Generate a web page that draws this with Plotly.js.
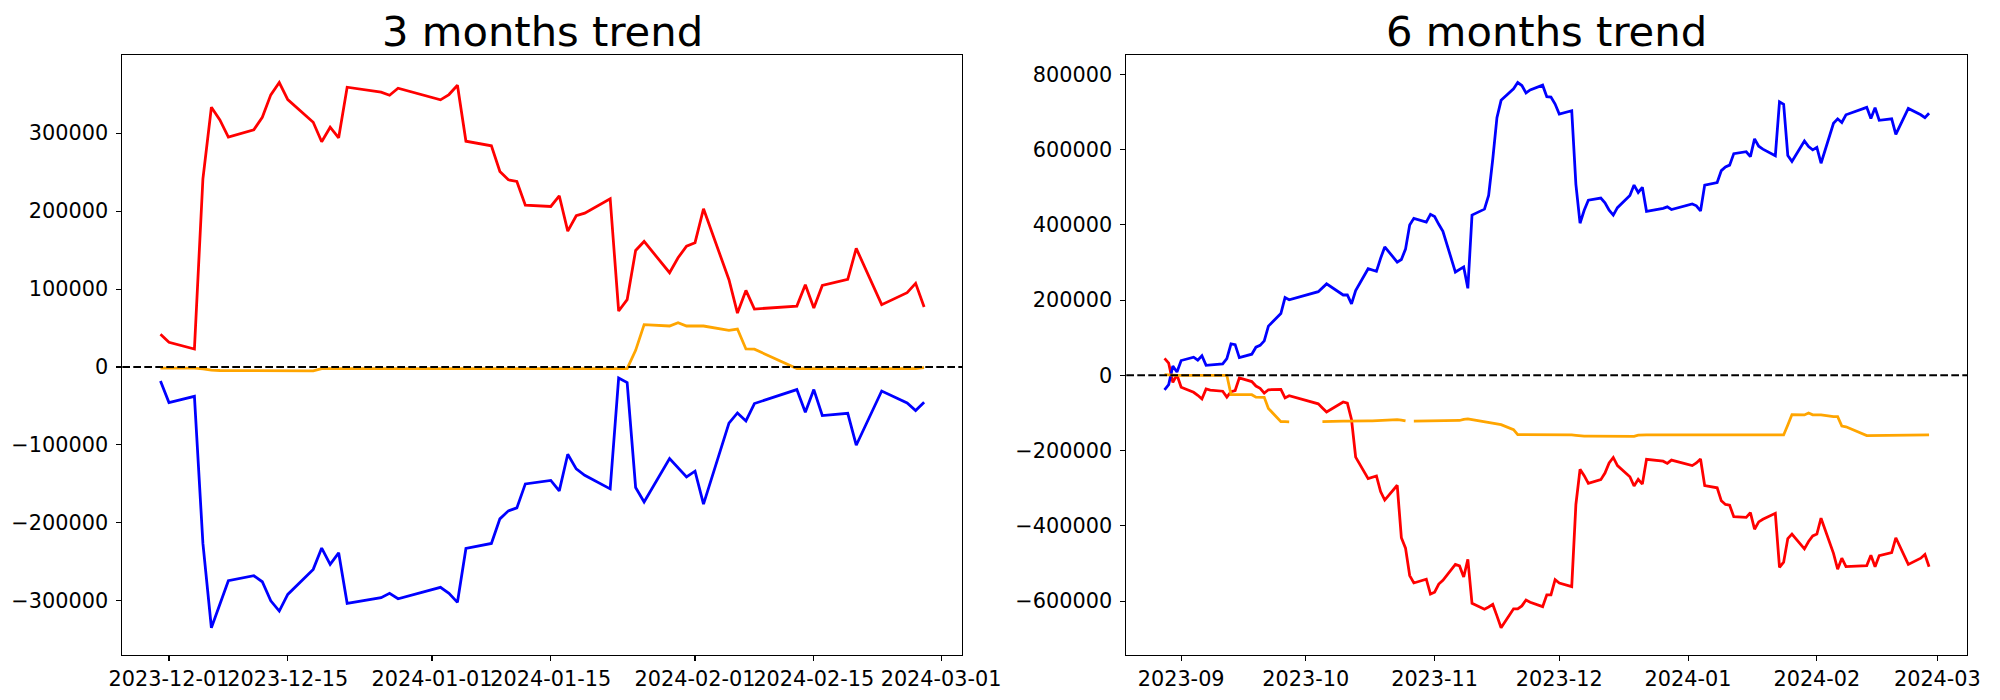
<!DOCTYPE html>
<html>
<head>
<meta charset="utf-8">
<script src="https://cdn.plot.ly/plotly-3.0.1.min.js"></script>
<style>
  html, body { margin: 0; padding: 0; background: #ffffff; }
  #chart { width: 2000px; height: 700px; }
</style>
</head>
<body>
<div id="chart"></div>
<script>
// ---------- 3 months trend ----------
const dates3m = [
  "2023-11-30","2023-12-01","2023-12-04","2023-12-05","2023-12-06","2023-12-07","2023-12-08",
  "2023-12-11","2023-12-12","2023-12-13","2023-12-14","2023-12-15","2023-12-18","2023-12-19",
  "2023-12-20","2023-12-21","2023-12-22","2023-12-26","2023-12-27","2023-12-28","2024-01-02",
  "2024-01-03","2024-01-04","2024-01-05","2024-01-08","2024-01-09","2024-01-10","2024-01-11",
  "2024-01-12","2024-01-15","2024-01-16","2024-01-17","2024-01-18","2024-01-19","2024-01-22",
  "2024-01-23","2024-01-24","2024-01-25","2024-01-26","2024-01-29","2024-01-30","2024-01-31",
  "2024-02-01","2024-02-02","2024-02-05","2024-02-06","2024-02-07","2024-02-08","2024-02-13",
  "2024-02-14","2024-02-15","2024-02-16","2024-02-19","2024-02-20","2024-02-23","2024-02-26",
  "2024-02-27","2024-02-28"
];
const red3m = [
  41900, 31700, 23100, 241500, 333300, 317100, 294900,
  304300, 320500, 349200, 365000, 343200, 314100, 289000,
  307700, 294100, 359000, 352600, 348700, 357700, 342800,
  349600, 361500, 289700, 283800, 250900, 240200, 238100,
  207700, 206000, 219700, 174400, 194100, 197400, 215900,
  71800, 86400, 149600, 161100, 121000, 140200, 155100,
  159500, 203000, 112000, 69200, 98300, 74400, 78200,
  105600, 75600, 104700, 112400, 152200, 80000, 95400,
  107300, 76900
];
const blue3m = [
  -17900, -45700, -37600, -226400, -334600, -305500, -274300,
  -267900, -275600, -300000, -313200, -291800, -259700, -232400,
  -253300, -238500, -303300, -296100, -290500, -297400, -282800,
  -290500, -302000, -232800, -226400, -194900, -184600, -180800,
  -150000, -145600, -159000, -111900, -130800, -139000, -156400,
  -14100, -20000, -154600, -173100, -117400, -129500, -141000,
  -133700, -176000, -72000, -59000, -69200, -46900, -29000,
  -58100, -29000, -62300, -59400, -100400, -30800, -46200,
  -55900, -45300
];
const orange3m = [
  -1500, -1500, -1500, -2500, -4000, -4500, -4500,
  -5000, -5000, -5000, -5000, -5000, -5000, -2000,
  -2000, -1500, -1500, -1500, -1500, -1500, -1500,
  -1500, -1500, -1500, -1500, -1500, -1500, -1500,
  -1500, -1500, -1500, -1500, -1500, -1500, -1500,
  -1500, -2000, 21400, 54400, 52600, 56900, 52600,
  52600, 52600, 47000, 48700, 23100, 22800, -2000,
  -2000, -2000, -2000, -2000, -2000, -2000, -2000,
  -2000, -700
];

// ---------- 6 months trend ----------
const dates6m = [
  "2023-08-28","2023-08-29","2023-08-30","2023-08-31","2023-09-01",
  "2023-09-04","2023-09-05","2023-09-06","2023-09-07","2023-09-08",
  "2023-09-11","2023-09-12","2023-09-13","2023-09-14","2023-09-15",
  "2023-09-18","2023-09-19","2023-09-20","2023-09-21","2023-09-22",
  "2023-09-25","2023-09-26","2023-09-27","2023-10-04","2023-10-05",
  "2023-10-06","2023-10-10","2023-10-11","2023-10-12","2023-10-13",
  "2023-10-16","2023-10-17","2023-10-18","2023-10-19","2023-10-20",
  "2023-10-23","2023-10-24","2023-10-25","2023-10-26","2023-10-27",
  "2023-10-30","2023-10-31","2023-11-01","2023-11-02","2023-11-03",
  "2023-11-06","2023-11-07","2023-11-08","2023-11-09","2023-11-10",
  "2023-11-13","2023-11-14","2023-11-15","2023-11-16","2023-11-17",
  "2023-11-20","2023-11-21","2023-11-22","2023-11-23","2023-11-24",
  "2023-11-27","2023-11-28","2023-11-29","2023-11-30","2023-12-01",
  "2023-12-04","2023-12-05","2023-12-06","2023-12-07","2023-12-08",
  "2023-12-11","2023-12-12","2023-12-13","2023-12-14","2023-12-15",
  "2023-12-18","2023-12-19","2023-12-20","2023-12-21","2023-12-22",
  "2023-12-26","2023-12-27","2023-12-28","2024-01-02","2024-01-03",
  "2024-01-04","2024-01-05","2024-01-08","2024-01-09","2024-01-10",
  "2024-01-11","2024-01-12","2024-01-15","2024-01-16","2024-01-17",
  "2024-01-18","2024-01-19","2024-01-22","2024-01-23","2024-01-24",
  "2024-01-25","2024-01-26","2024-01-29","2024-01-30","2024-01-31",
  "2024-02-01","2024-02-02","2024-02-05","2024-02-06","2024-02-07",
  "2024-02-08","2024-02-13","2024-02-14","2024-02-15","2024-02-16",
  "2024-02-19","2024-02-20","2024-02-23","2024-02-26","2024-02-27",
  "2024-02-28"
];
const blue6m = [
  -38400, -24600, 24600, 8900, 39300,
  48200, 40300, 52100, 26600, 27500,
  30500, 44300, 83600, 81600, 47200,
  56100, 74800, 79700, 91500, 130800,
  164300, 206600, 200700, 222300, 232200,
  243000, 213500, 213500, 189900, 225300,
  283300, 280400, 276400, 310900, 341300,
  301000, 307900, 335400, 399400, 417100,
  407300, 427900, 422000, 401400, 382700,
  274500, 282300, 288200, 231200, 425900,
  441700, 478100, 575000, 684700, 730900,
  761400, 778100, 770200, 750600, 758400,
  771200, 740700, 739700, 721000, 694500,
  703300, 507600, 404300, 438700, 465300,
  471200, 458400, 438700, 425900, 445600,
  478100, 505600, 486000, 499700, 435800,
  443600, 447600, 440700, 455400, 450500,
  436800, 505600, 512500, 544000, 553800,
  558700, 589200, 594200, 581400, 628600,
  608900, 601000, 583300, 727000, 720500,
  584300, 568600, 622700, 607900, 599100,
  606000, 563700, 669900, 681700, 671900,
  692500, 712200, 682700, 711200, 677800,
  681700, 640400, 709200, 692500, 684700,
  696500
];
const red6m = [
  45200, 32500, -18700, 1000, -31500,
  -45200, -53100, -63000, -36400, -39300,
  -42300, -58000, -43300, -40300, -6900,
  -16700, -28500, -34400, -47200, -38400,
  -37400, -60000, -54100, -75700, -86600,
  -97400, -70800, -73800, -117100, -217400,
  -274500, -271500, -267600, -308900, -331500,
  -292200, -431800, -459400, -532200, -551900,
  -542000, -581400, -576400, -554800, -545000,
  -502700, -506600, -536100, -488900, -606000,
  -621700, -615800, -608900, -639400, -670900,
  -620700, -620700, -612900, -597100, -603000,
  -614800, -583300, -583300, -543000, -551900,
  -561700, -343300, -249900, -266600, -287200,
  -277400, -259700, -233100, -218400, -240000,
  -269500, -294100, -276400, -289200, -223300,
  -228200, -234100, -225300, -240000, -233100,
  -222300, -293100, -299000, -333500, -343300,
  -345300, -375800, -377700, -365000, -409200,
  -389500, -382700, -366900, -510500, -496800,
  -433800, -422000, -461300, -441700, -426900,
  -422000, -379700, -473200, -515500, -486000,
  -508600, -505600, -478100, -508600, -479100,
  -471200, -431800, -502700, -486000, -476100,
  -508600
];
const orange6m = [
  2000, 1000, 1000, 0, 0,
  0, -1000, -1000, 0, 0,
  0, 0, -51000, -51000, -51000,
  -51500, -58000, -58000, -58500, -88000,
  -123000, -123000, -123500, null, -123000,
  -122500, -122000, -122000, -121500, -121000,
  -121000, -121000, -120500, -120000, -119000,
  -118000, -119000, -121000, null, -122000,
  -122000, -122000, -122000, -122000, -121500,
  -121000, -120000, -117000, -116000, -118000,
  -123000, -124000, -127500, -129000, -131000,
  -144500, -157400, -157400, -157400, -157400,
  -157400, -157400, -157400, -157400, -158500,
  -158500, -159500, -161000, -161500, -161500,
  -162000, -162000, -162000, -162000, -162000,
  -162000, -162000, -159000, -158500, -158500,
  -158500, -158500, -158500, -158500, -158500,
  -158500, -158500, -158500, -158500, -158500,
  -158500, -158500, -158500, -158500, -158500,
  -158500, -158500, -158500, -158500, -158500,
  -132000, -104300, -105300, -100300, -105000,
  -105000, -105000, -110000, -110000, -134800,
  -136800, -160300, -160300, -160300, -160300,
  -160300, -160300, -160300, -160300, -160300,
  -158400
];

// ---------- ticks ----------
const xTicks3m = ["2023-12-01","2023-12-15","2024-01-01","2024-01-15","2024-02-01","2024-02-15","2024-03-01"];
const xTickText3m = ["2023-12-01","2023-12-15","2024-01-01","2024-01-15","2024-02-01","2024-02-15","2024-03-01"];
const xTicks6m = ["2023-09-01","2023-10-01","2023-11-01","2023-12-01","2024-01-01","2024-02-01","2024-03-01"];
const xTickText6m = ["2023-09","2023-10","2023-11","2023-12","2024-01","2024-02","2024-03"];
const yTicks3m = [-300000,-200000,-100000,0,100000,200000,300000];
const yTicks6m = [-600000,-400000,-200000,0,200000,400000,600000,800000];
const titles = ["3 months trend", "6 months trend"];

// ---------- helpers ----------
function fmtY(v){ return v < 0 ? "\u2212" + Math.abs(v) : String(v); }
function pad(n){ return (n < 10 ? "0" : "") + n; }
function msToStr(ms){
  const d = new Date(ms);
  return d.getUTCFullYear()+"-"+pad(d.getUTCMonth()+1)+"-"+pad(d.getUTCDate())+" "+
         pad(d.getUTCHours())+":"+pad(d.getUTCMinutes())+":"+pad(d.getUTCSeconds());
}
function xRange(dates){
  const t = dates.map(s => Date.parse(s + "T00:00:00Z"));
  const lo = Math.min(...t), hi = Math.max(...t), m = (hi - lo) * 0.05;
  return [msToStr(lo - m), msToStr(hi + m)];
}
function yRange(){
  const all = [].concat(...arguments).filter(v => v !== null);
  const lo = Math.min(...all), hi = Math.max(...all), m = (hi - lo) * 0.05;
  return [lo - m, hi + m];
}

const LW = 2.78;
function tr(x, y, color, xa, ya, gaps){
  return {x: x, y: y, type: "scatter", mode: "lines", xaxis: xa, yaxis: ya,
          line: {color: color, width: LW}, connectgaps: !!gaps, hoverinfo: "skip", showlegend: false};
}
const data = [
  tr(dates3m, red3m, "#ff0000", "x", "y"),
  tr(dates3m, blue3m, "#0000ff", "x", "y"),
  tr(dates3m, orange3m, "#ffa500", "x", "y"),
  tr(dates6m, red6m, "#ff0000", "x2", "y2"),
  tr(dates6m, blue6m, "#0000ff", "x2", "y2"),
  tr(dates6m, orange6m, "#ffa500", "x2", "y2", false)
];

const tickFont = {family: "DejaVu Sans", size: 20.8, color: "#000000"};
function axisBase(){
  return {showgrid: false, zeroline: false, showline: true, linecolor: "#000000", linewidth: 1.11,
          mirror: true, ticks: "outside", ticklen: 4.86, tickwidth: 1.11, tickcolor: "#000000",
          tickfont: tickFont, fixedrange: true, tickangle: 0};
}
const W = 2000, H = 700;
const dom1 = [122.3 / W, 962.3 / W];
const dom2 = [1126.3 / W, 1967.3 / W];
const domY = [(H - 655) / H, (H - 55.3) / H];

const layout = {
  width: W, height: H,
  margin: {l: 0, r: 0, t: 0, b: 0},
  paper_bgcolor: "#ffffff", plot_bgcolor: "#ffffff",
  showlegend: false,
  xaxis: Object.assign(axisBase(), {type: "date", domain: dom1, anchor: "y", range: xRange(dates3m),
          tickmode: "array", tickvals: xTicks3m, ticktext: xTickText3m}),
  yaxis: Object.assign(axisBase(), {domain: domY, anchor: "x", range: yRange(red3m, blue3m, orange3m),
          tickmode: "array", tickvals: yTicks3m, ticktext: yTicks3m.map(fmtY), ticklabelstandoff: 4}),
  xaxis2: Object.assign(axisBase(), {type: "date", domain: dom2, anchor: "y2", range: xRange(dates6m),
          tickmode: "array", tickvals: xTicks6m, ticktext: xTickText6m}),
  yaxis2: Object.assign(axisBase(), {domain: domY, anchor: "x2", range: yRange(red6m, blue6m, orange6m),
          tickmode: "array", tickvals: yTicks6m, ticktext: yTicks6m.map(fmtY), ticklabelstandoff: 4}),
  shapes: [
    {type: "line", xref: "x domain", yref: "y", x0: 0, x1: 1, y0: 0, y1: 0,
     line: {color: "#000000", width: 2.08, dash: "7.7px,3.3px"}},
    {type: "line", xref: "x2 domain", yref: "y2", x0: 0, x1: 1, y0: 0, y1: 0,
     line: {color: "#000000", width: 2.08, dash: "7.7px,3.3px"}}
  ],
  annotations: [
    {text: titles[0], xref: "paper", yref: "paper", x: (dom1[0] + dom1[1]) / 2, y: (H - 57.8) / H,
     xanchor: "center", yanchor: "bottom", showarrow: false,
     font: {family: "DejaVu Sans", size: 41.7, color: "#000000"}},
    {text: titles[1], xref: "paper", yref: "paper", x: (dom2[0] + dom2[1]) / 2, y: (H - 57.8) / H,
     xanchor: "center", yanchor: "bottom", showarrow: false,
     font: {family: "DejaVu Sans", size: 41.7, color: "#000000"}}
  ]
};

Plotly.newPlot("chart", data, layout, {staticPlot: true, displayModeBar: false});
</script>
</body>
</html>
